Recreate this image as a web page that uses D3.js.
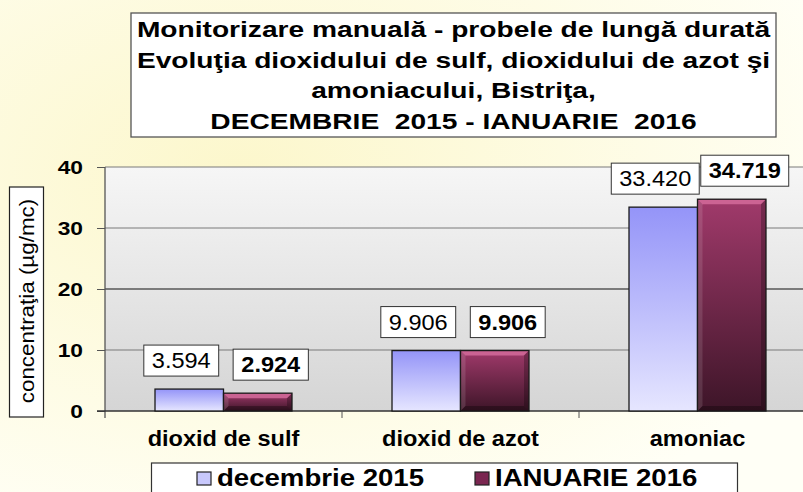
<!DOCTYPE html>
<html>
<head>
<meta charset="utf-8">
<script src="https://cdn.jsdelivr.net/npm/d3@7"></script>
<style>
  html, body { margin: 0; padding: 0; overflow: hidden; }
  text { font-family: "Liberation Sans", Arial, sans-serif; white-space: pre; }
</style>
</head>
<body>
<div id="chart"></div>
<script>
// chart data
const categories = ["dioxid de sulf", "dioxid de azot", "amoniac"];
const seriesNames = ["decembrie 2015", "IANUARIE 2016"];
const decValues = [3.594, 9.906, 33.420];
const janValues = [2.924, 9.906, 34.719];
const yTicks = [0, 10, 20, 30, 40];
const titleLines = [
  "Monitorizare manuală - probele de lungă durată",
  "Evoluţia dioxidului de sulf, dioxidului de azot şi",
  "amoniacului, Bistriţa,",
  "DECEMBRIE  2015 - IANUARIE  2016"
];
const yLabel = "concentraţia (µg/mc)";

const W = 803, H = 492;
const svg = d3.select("#chart")
  .append("svg")
  .attr("width", W)
  .attr("height", H);

const defs = svg.append("defs");

// page background
const bg = defs.append("radialGradient").attr("id", "bg")
  .attr("cx", "0.3").attr("cy", "0.35").attr("r", "0.8");
bg.append("stop").attr("offset", "0%").attr("stop-color", "#fcf7cc");
bg.append("stop").attr("offset", "100%").attr("stop-color", "#fffff6");

const plotBg = defs.append("linearGradient").attr("id", "plotBg")
  .attr("x1", 0).attr("y1", 0).attr("x2", 0).attr("y2", 1);
plotBg.append("stop").attr("offset", "0%").attr("stop-color", "#f6f6f6");
plotBg.append("stop").attr("offset", "100%").attr("stop-color", "#d5d5d5");

const decGrad = defs.append("linearGradient").attr("id", "decGrad")
  .attr("x1", 0).attr("y1", 0).attr("x2", 0).attr("y2", 1);
decGrad.append("stop").attr("offset", "0%").attr("stop-color", "#9494f8");
decGrad.append("stop").attr("offset", "100%").attr("stop-color", "#e6e6ff");

const janGrad = defs.append("linearGradient").attr("id", "janGrad")
  .attr("x1", 0).attr("y1", 0).attr("x2", 0).attr("y2", 1);
janGrad.append("stop").attr("offset", "0%").attr("stop-color", "#a13a6b");
janGrad.append("stop").attr("offset", "100%").attr("stop-color", "#3d1528");

svg.append("rect").attr("width", W).attr("height", H).attr("fill", "url(#bg)");

// stretched text helper (the source picture is widened)
function stext(g, str, x, y, size, weight, sx, anchor) {
  return g.append("text")
    .attr("transform", `translate(${x},${y}) scale(${sx},1)`)
    .attr("text-anchor", anchor || "middle")
    .attr("font-size", size)
    .attr("font-weight", weight)
    .attr("fill", "#000")
    .text(str);
}

// plot geometry
const margin = { left: 105, top: 167, bottom: 411, right: 816 };

const x0 = d3.scaleBand()
  .domain(categories)
  .range([margin.left, margin.right]);

const groupPad = x0.bandwidth() * 0.211;
const x1 = d3.scaleBand()
  .domain(seriesNames)
  .range([groupPad, x0.bandwidth() - groupPad]);

const y = d3.scaleLinear()
  .domain([0, 40])
  .range([margin.bottom, margin.top]);

// plot area
svg.append("rect")
  .attr("x", margin.left).attr("y", margin.top)
  .attr("width", margin.right - margin.left)
  .attr("height", margin.bottom - margin.top)
  .attr("fill", "url(#plotBg)");

// gridlines
svg.append("g")
  .selectAll("line")
  .data(yTicks.filter(d => d > 0))
  .join("line")
  .attr("x1", margin.left).attr("x2", margin.right)
  .attr("y1", d => y(d)).attr("y2", d => y(d))
  .attr("stroke", d => d === 20 ? "#111" : "#7a7a7a")
  .attr("stroke-width", 1.2);

// y axis
const yAxis = svg.append("g")
  .attr("transform", `translate(${margin.left},0)`)
  .call(d3.axisLeft(y).tickValues(yTicks).tickSize(8).tickPadding(14));
yAxis.select(".domain").remove();
yAxis.selectAll(".tick line").attr("stroke", "#555");
yAxis.selectAll(".tick text").remove();
yAxis.append("line")
  .attr("x1", 0).attr("x2", 0)
  .attr("y1", margin.top).attr("y2", margin.bottom + 7)
  .attr("stroke", "#555").attr("stroke-width", 1.3);

yTicks.forEach(t => {
  stext(svg, String(t), 83, y(t) + 7, 19, "bold", 1.2, "end");
});

// x axis
svg.append("line")
  .attr("x1", margin.left - 8).attr("x2", margin.right)
  .attr("y1", margin.bottom).attr("y2", margin.bottom)
  .attr("stroke", "#333").attr("stroke-width", 1.3);

svg.append("g")
  .selectAll("line")
  .data(categories.slice(1))
  .join("line")
  .attr("x1", d => x0(d)).attr("x2", d => x0(d))
  .attr("y1", margin.bottom).attr("y2", margin.bottom + 7)
  .attr("stroke", "#555");

categories.forEach(c => {
  stext(svg, c, x0(c) + x0.bandwidth() / 2, 446, 22, "bold", 1.07);
});

// bars
const rows = categories.map((c, i) => ({ cat: c, vals: [decValues[i], janValues[i]] }));
const bev = 5;

const groups = svg.append("g")
  .selectAll("g")
  .data(rows)
  .join("g")
  .attr("transform", d => `translate(${x0(d.cat)},0)`);

groups.each(function (d) {
  const g = d3.select(this);
  d.vals.forEach((v, si) => {
    const bx = x1(seriesNames[si]);
    const bw = x1.bandwidth();
    const by = y(v);
    const bh = y(0) - y(v);
    if (si === 0) {
      g.append("rect")
        .attr("x", bx).attr("y", by).attr("width", bw).attr("height", bh)
        .attr("fill", "url(#decGrad)")
        .attr("stroke", "#1a1a1a").attr("stroke-width", 1.3);
    } else {
      g.append("rect")
        .attr("x", bx).attr("y", by).attr("width", bw).attr("height", bh)
        .attr("fill", "url(#janGrad)");
      // bevel edges
      const b = Math.min(bev, bh / 2);
      g.append("polygon")
        .attr("points", [[bx, by], [bx + bw, by], [bx + bw - b, by + b], [bx + b, by + b]].join(" "))
        .attr("fill", "#d06898").attr("opacity", 0.9);
      g.append("polygon")
        .attr("points", [[bx, by], [bx + b, by + b], [bx + b, by + bh - b], [bx, by + bh]].join(" "))
        .attr("fill", "#ffffff").attr("opacity", 0.12);
      g.append("polygon")
        .attr("points", [[bx + bw, by], [bx + bw, by + bh], [bx + bw - b, by + bh - b], [bx + bw - b, by + b]].join(" "))
        .attr("fill", "#000").attr("opacity", 0.25);
      g.append("polygon")
        .attr("points", [[bx, by + bh], [bx + b, by + bh - b], [bx + bw - b, by + bh - b], [bx + bw, by + bh]].join(" "))
        .attr("fill", "#000").attr("opacity", 0.3);
      g.append("rect")
        .attr("x", bx).attr("y", by).attr("width", bw).attr("height", bh)
        .attr("fill", "none")
        .attr("stroke", "#1a1a1a").attr("stroke-width", 1.3);
    }
  });
});

// data labels in boxes
const labelShift = [-8, 13];
groups.each(function (d) {
  const g = d3.select(this);
  d.vals.forEach((v, si) => {
    const cx = x1(seriesNames[si]) + x1.bandwidth() / 2 + labelShift[si];
    const bottom = y(v) - 13;
    const txt = v.toFixed(3);
    const lg = g.append("g");
    const t = stext(lg, txt, cx, bottom - 8, 22, si === 0 ? "normal" : "bold", 1.07);
    const tw = t.node().getBBox().width * 1.07;
    lg.insert("rect", "text")
      .attr("x", cx - tw / 2 - 8).attr("y", bottom - 31)
      .attr("width", tw + 16).attr("height", 31)
      .attr("fill", "#fff")
      .attr("stroke", "#333").attr("stroke-width", 1);
  });
});

// title box
svg.append("rect")
  .attr("x", 131).attr("y", 13).attr("width", 645).attr("height", 124)
  .attr("fill", "#fff").attr("stroke", "#555").attr("stroke-width", 1.3);
titleLines.forEach((l, i) => {
  stext(svg, l, 453.5, 37 + i * 30.5, 22, "bold", 1.28);
});

// y axis title box
svg.append("rect")
  .attr("x", 9.5).attr("y", 187).attr("width", 34).attr("height", 230)
  .attr("fill", "#fff").attr("stroke", "#222").attr("stroke-width", 1.2);
svg.append("text")
  .attr("transform", "translate(26.5,301) rotate(-90) scale(1.12,1)")
  .attr("text-anchor", "middle")
  .attr("dy", "0.35em")
  .attr("font-size", 20)
  .attr("fill", "#000")
  .text(yLabel);

// legend
svg.append("rect")
  .attr("x", 151.5).attr("y", 463).attr("width", 586).attr("height", 40)
  .attr("fill", "#fff").attr("stroke", "#333").attr("stroke-width", 1.2);
const legendX = [197, 475];
const legendFill = ["#c8c8fc", "#7a2650"];
seriesNames.forEach((s, i) => {
  svg.append("rect")
    .attr("x", legendX[i]).attr("y", 472).attr("width", 14).attr("height", 13)
    .attr("fill", legendFill[i]).attr("stroke", "#222").attr("stroke-width", 1.2);
  stext(svg, s, legendX[i] + 20, 486, 23, "bold", 1.2, "start");
});
</script>
</body>
</html>
